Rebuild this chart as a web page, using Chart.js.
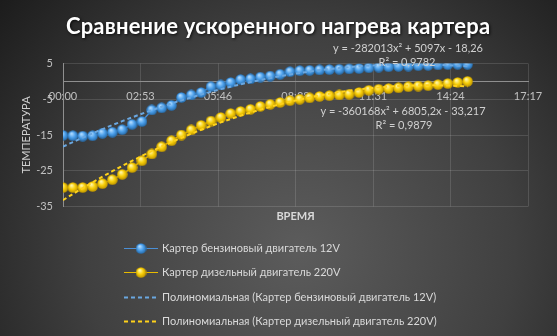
<!DOCTYPE html>
<html>
<head>
<meta charset="utf-8">
<script src="https://cdn.jsdelivr.net/npm/chart.js@4.4.1/dist/chart.umd.min.js"></script>
<style>
  html, body { margin: 0; padding: 0; background: #2a2a2a; }
  #wrap { width: 557px; height: 336px; position: relative; }
</style>
</head>
<body>
<div id="wrap"><canvas id="c" width="557" height="336"></canvas></div>
<script>
// ---- data ----
const chartTitle = 'Сравнение ускоренного нагрева картера';
const seriesNames = [
  'Картер бензиновый двигатель 12V',
  'Картер дизельный двигатель 220V',
  'Полиномиальная (Картер бензиновый двигатель 12V)',
  'Полиномиальная (Картер дизельный двигатель 220V)'
];
// elapsed time of each reading, seconds
const timeSeconds = [0, 22, 44, 66, 88, 110, 132, 154, 176, 198, 220, 242, 264, 286, 308, 330,
  352, 374, 396, 418, 440, 462, 484, 506, 528, 550, 572, 594, 616, 638, 660, 682, 704, 726,
  748, 770, 792, 814, 836, 858, 880, 902];
const petrolTemps = [-15.1, -15.2, -15.3, -15.2, -14.5, -14.2, -13.5, -12.0, -11.2, -8.0,
  -7.4, -6.7, -4.5, -3.8, -3.1, -1.5, -1.0, -0.3, 0.5, 0.7,
  1.2, 1.5, 2.0, 2.7, 3.0, 3.1, 3.2, 3.3, 3.4, 3.5,
  3.6, 3.8, 4.0, 4.1, 4.2, 4.3, 4.4, 4.5, 4.6, 4.7,
  4.8, 4.8];
const dieselTemps = [-29.7, -29.7, -29.7, -29.4, -28.6, -27.5, -26.0, -24.1, -22.2, -20.3,
  -18.3, -16.6, -15.0, -13.6, -12.3, -11.1, -10.1, -9.0, -8.4, -7.8,
  -7.0, -6.4, -5.9, -5.4, -5.0, -4.6, -4.2, -4.0, -3.8, -3.6,
  -3.1, -2.5, -2.2, -2.0, -1.8, -1.5, -1.3, -1.2, -0.9, -0.6,
  -0.3, 0.0];
// quadratic fits y = a*x^2 + b*x + c, x in days
const petrolFit = [-282013, 5097, -18.26];
const dieselFit = [-360168, 6805.2, -33.217];
const petrolFitLabel = ['y = -282013x² + 5097x - 18,26', 'R² = 0,9782'];
const dieselFitLabel = ['y = -360168x² + 6805,2x - 33,217', 'R² = 0,9879'];
// axis ticks
const xTickSeconds = [0, 172.8, 345.6, 518.4, 691.2, 864, 1036.8];
const xTickLabels = ['00:00', '02:53', '05:46', '08:38', '11:31', '14:24', '17:17'];
const yTickValues = [-35, -25, -15, -5, 5];
const xAxisTitle = 'ВРЕМЯ';
const yAxisTitle = 'ТЕМПЕРАТУРА';

// ---- drawing ----
const FONT = 'Lato, "Open Sans", sans-serif';
Chart.defaults.font.family = FONT;

function makeBall(d, c0, c1, c2) {
  const cv = document.createElement('canvas');
  cv.width = cv.height = d;
  const g = cv.getContext('2d');
  const r = d / 2;
  const grad = g.createRadialGradient(r * 0.75, r * 0.6, r * 0.1, r, r, r);
  grad.addColorStop(0, c0);
  grad.addColorStop(0.5, c1);
  grad.addColorStop(1, c2);
  g.fillStyle = grad;
  g.beginPath();
  g.arc(r, r, r - 0.2, 0, Math.PI * 2);
  g.fill();
  return cv;
}
const blueBall = makeBall(11, '#b0dbff', '#4da1ec', '#2468a6');
const yellowBall = makeBall(11, '#fff6a8', '#f8cf08', '#b88f00');

const toPoints = (vals) => timeSeconds.map((t, i) => ({ x: t, y: vals[i] }));
const fitPoints = (f) => timeSeconds.map(t => {
  const d = t / 86400;
  return { x: t, y: f[0] * d * d + f[1] * d + f[2] };
});

const decor = {
  id: 'decor',
  beforeDraw(chart) {
    const ctx = chart.ctx;
    const { width, height } = chart;
    ctx.save();
    const g = ctx.createRadialGradient(300, 250, 0, 300, 250, 390);
    g.addColorStop(0, '#5c5c5c');
    g.addColorStop(0.55, '#404040');
    g.addColorStop(1, '#1c1c1c');
    ctx.fillStyle = g;
    ctx.fillRect(0, 0, width, height);
    ctx.restore();
  },
  afterDraw(chart) {
    const ctx = chart.ctx;
    ctx.save();
    // title
    ctx.font = 'bold 22px ' + FONT;
    ctx.letterSpacing = '0px';
    const w0 = ctx.measureText(chartTitle).width;
    const sp = Math.max(0, (424 - w0) / (chartTitle.length - 1));
    ctx.letterSpacing = sp.toFixed(2) + 'px';
    ctx.fillStyle = '#ffffff';
    ctx.textAlign = 'center';
    ctx.textBaseline = 'alphabetic';
    ctx.shadowColor = 'rgba(0,0,0,0.8)';
    ctx.shadowBlur = 3;
    ctx.shadowOffsetX = 1;
    ctx.shadowOffsetY = 1;
    ctx.fillText(chartTitle, 278 + sp / 2, 34);
    ctx.restore();

    // trendline equations
    ctx.save();
    ctx.font = '11px ' + FONT;
    ctx.fillStyle = '#d0d0d0';
    ctx.textAlign = 'center';
    ctx.textBaseline = 'middle';
    ctx.fillText(petrolFitLabel[0], 408, 48);
    ctx.fillText(petrolFitLabel[1], 407, 62);
    ctx.fillText(dieselFitLabel[0], 403, 111);
    ctx.fillText(dieselFitLabel[1], 404, 125);
    ctx.restore();

    // legend
    ctx.save();
    ctx.font = '11px ' + FONT;
    ctx.textBaseline = 'middle';
    ctx.textAlign = 'left';
    chart.data.datasets.forEach((ds, i) => {
      const y = Math.round(248 + i * 24.3) + 0.5;
      ctx.strokeStyle = ds.borderColor;
      ctx.lineWidth = ds.borderDash ? 2 : 1.2;
      ctx.setLineDash(ds.borderDash || []);
      ctx.beginPath();
      ctx.moveTo(124, y);
      ctx.lineTo(158, y);
      ctx.stroke();
      ctx.setLineDash([]);
      if (ds.pointStyle instanceof HTMLCanvasElement) {
        ctx.drawImage(ds.pointStyle, 141 - ds.pointStyle.width / 2, y - ds.pointStyle.height / 2);
      }
      ctx.fillStyle = '#d9d9d9';
      ctx.fillText(ds.label, 162, y);
    });
    ctx.restore();
  }
};

const gridColor = 'rgba(255,255,255,0.13)';
const axisColor = '#8f8f8f';
const tickColor = '#c0c0c0';

new Chart(document.getElementById('c'), {
  type: 'line',
  data: {
    datasets: [
      {
        label: seriesNames[0], data: toPoints(petrolTemps),
        borderColor: '#4a8fd6', borderWidth: 1.5, pointStyle: blueBall, pointRadius: 5.5,
        order: 1, tension: 0
      },
      {
        label: seriesNames[1], data: toPoints(dieselTemps),
        borderColor: '#e8bb00', borderWidth: 1.5, pointStyle: yellowBall, pointRadius: 5.5,
        order: 1, tension: 0
      },
      {
        label: seriesNames[2], data: fitPoints(petrolFit),
        borderColor: '#6aa7e0', borderWidth: 2, borderDash: [4, 3], pointRadius: 0,
        order: 0, tension: 0
      },
      {
        label: seriesNames[3], data: fitPoints(dieselFit),
        borderColor: '#ffd21a', borderWidth: 2, borderDash: [4, 3], pointRadius: 0,
        order: 0, tension: 0
      }
    ]
  },
  options: {
    responsive: false,
    animation: false,
    devicePixelRatio: 1,
    layout: { padding: { left: 0, right: 29, top: 63.5, bottom: 112.5 } },
    plugins: { legend: { display: false }, title: { display: false }, tooltip: { enabled: false } },
    scales: {
      x: {
        type: 'linear',
        position: { y: 0 },
        min: 0, max: 1036.8,
        afterBuildTicks: (s) => { s.ticks = xTickSeconds.map(v => ({ value: v })); },
        ticks: {
          color: tickColor, font: { size: 11 }, padding: 8,
          maxRotation: 0, autoSkip: false,
          callback: (v, i) => xTickLabels[i]
        },
        grid: { color: gridColor, drawTicks: false },
        border: { display: true, color: axisColor, width: 1 }
      },
      xTitle: {
        type: 'linear', axis: 'x', position: 'bottom',
        ticks: { display: false },
        grid: { display: false, drawTicks: false },
        border: { display: false },
        title: { display: true, text: xAxisTitle, color: '#d9d9d9', font: { size: 11, weight: 'bold' }, padding: 0 },
        afterFit: (s) => { s.height = 17; }
      },
      y: {
        type: 'linear',
        min: -35, max: 5,
        afterBuildTicks: (s) => { s.ticks = yTickValues.map(v => ({ value: v })); },
        ticks: { color: tickColor, font: { size: 11 }, padding: 10 },
        grid: { color: gridColor, drawTicks: false },
        border: { display: true, color: axisColor, width: 1 },
        title: { display: true, text: yAxisTitle, color: '#d0d0d0', font: { size: 11 }, padding: { top: 20, bottom: 0 } },
        afterFit: (s) => { s.width = 63; }
      }
    }
  },
  plugins: [decor]
});
</script>
</body>
</html>
